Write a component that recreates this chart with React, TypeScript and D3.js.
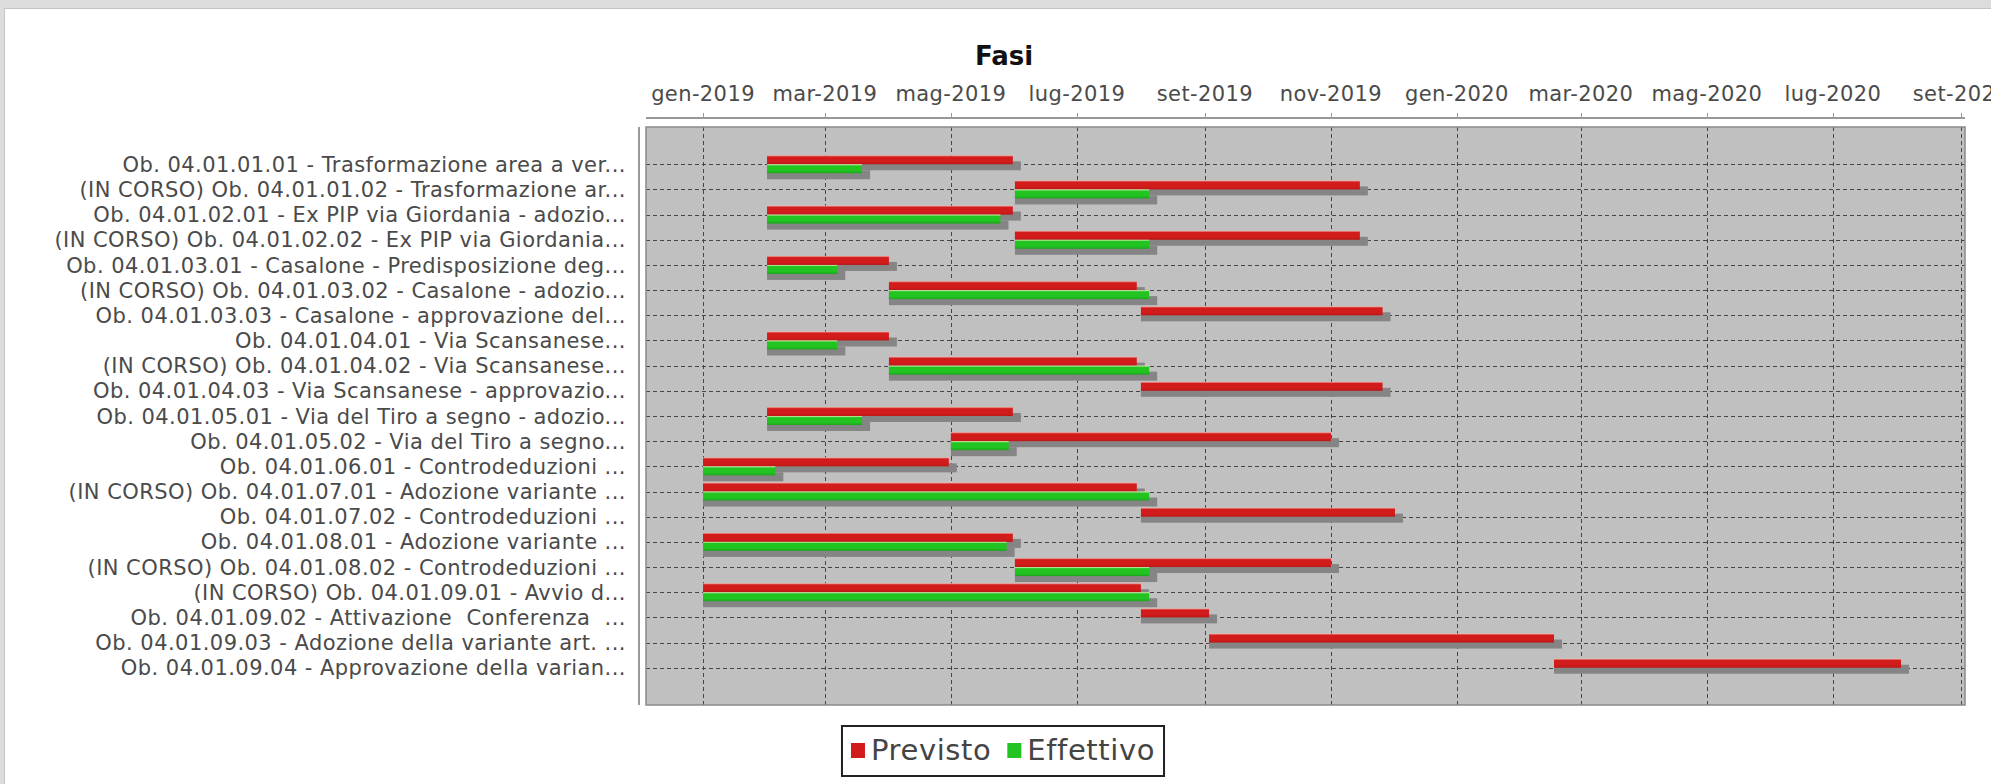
import React, { useEffect, useRef } from 'react'
import { max, min, scaleBand, scaleTime, select, timeMonth, timeParse } from 'd3'

// fasi (categorie), dall'alto in basso
const categories = [
  'Ob. 04.01.01.01 - Trasformazione area a ver...',
  '(IN CORSO) Ob. 04.01.01.02 - Trasformazione ar...',
  'Ob. 04.01.02.01 - Ex PIP via Giordania - adozio...',
  '(IN CORSO) Ob. 04.01.02.02 - Ex PIP via Giordania...',
  'Ob. 04.01.03.01 - Casalone - Predisposizione deg...',
  '(IN CORSO) Ob. 04.01.03.02 - Casalone - adozio...',
  'Ob. 04.01.03.03 - Casalone - approvazione del...',
  'Ob. 04.01.04.01 - Via Scansanese...',
  '(IN CORSO) Ob. 04.01.04.02 - Via Scansanese...',
  'Ob. 04.01.04.03 - Via Scansanese - approvazio...',
  'Ob. 04.01.05.01 - Via del Tiro a segno - adozio...',
  'Ob. 04.01.05.02 - Via del Tiro a segno...',
  'Ob. 04.01.06.01 - Controdeduzioni ...',
  '(IN CORSO) Ob. 04.01.07.01 - Adozione variante ...',
  'Ob. 04.01.07.02 - Controdeduzioni ...',
  'Ob. 04.01.08.01 - Adozione variante ...',
  '(IN CORSO) Ob. 04.01.08.02 - Controdeduzioni ...',
  '(IN CORSO) Ob. 04.01.09.01 - Avvio d...',
  'Ob. 04.01.09.02 - Attivazione  Conferenza  ...',
  'Ob. 04.01.09.03 - Adozione della variante art. ...',
  'Ob. 04.01.09.04 - Approvazione della varian...',
]

const previstoStart = [
  '2019-02-01', '2019-06-01', '2019-02-01', '2019-06-01', '2019-02-01', '2019-04-01', '2019-08-01',
  '2019-02-01', '2019-04-01', '2019-08-01', '2019-02-01', '2019-05-01', '2019-01-01', '2019-01-01',
  '2019-08-01', '2019-01-01', '2019-06-01', '2019-01-01', '2019-08-01', '2019-09-03', '2020-02-17',
]
const previstoEnd = [
  '2019-05-31', '2019-11-15', '2019-05-31', '2019-11-15', '2019-04-01', '2019-07-30', '2019-11-26',
  '2019-04-01', '2019-07-30', '2019-11-26', '2019-05-31', '2019-11-01', '2019-04-30', '2019-07-30',
  '2019-12-02', '2019-05-31', '2019-11-01', '2019-08-01', '2019-09-03', '2020-02-17', '2020-08-03',
]
const effettivoStart = [
  '2019-02-01', '2019-06-01', '2019-02-01', '2019-06-01', '2019-02-01', '2019-04-01', null,
  '2019-02-01', '2019-04-01', null, '2019-02-01', '2019-05-01', '2019-01-01', '2019-01-01',
  null, '2019-01-01', '2019-06-01', '2019-01-01', null, null, null,
]
const effettivoEnd = [
  '2019-03-19', '2019-08-05', '2019-05-25', '2019-08-05', '2019-03-07', '2019-08-05', null,
  '2019-03-07', '2019-08-05', null, '2019-03-19', '2019-05-29', '2019-02-05', '2019-08-05',
  null, '2019-05-28', '2019-08-05', '2019-08-05', null, null, null,
]

const seriesNames = ['Previsto', 'Effettivo']
const seriesColors = ['#d21b1b', '#22c422']
const monthLabels = ['gen', 'feb', 'mar', 'apr', 'mag', 'giu', 'lug', 'ago', 'set', 'ott', 'nov', 'dic']

const FONT = '"DejaVu Sans", sans-serif'

const Gantt = () => {
  const ref = useRef<SVGSVGElement>(null)

  useEffect(() => {
    main()
  }, [])

  const main = () => {
    const width = 1991,
      height = 784
    const plot = { left: 646, right: 1965, top: 127, bottom: 705 }
    const svg = select(ref.current)
    svg.selectAll('*').remove()
    svg.attr('width', width).attr('height', height).style('display', 'block')

    const parse = timeParse('%Y-%m-%d')
    const allStarts = [...previstoStart, ...effettivoStart].filter((d) => d).map((d) => parse(d))
    const allEnds = [...previstoEnd, ...effettivoEnd].filter((d) => d).map((d) => parse(d))
    const lo = +min(allStarts),
      hi = +max(allEnds)
    const span = hi - lo

    const x = scaleTime()
      .domain([new Date(lo - span * 0.0476), new Date(hi + span * 0.0534)])
      .range([plot.left, plot.right])
    const y = scaleBand()
      .domain(categories.map((_, i) => String(i)))
      .range([plot.top, plot.bottom])
      .paddingInner(0.2)
      .paddingOuter(1.08)
    const cy = (i) => y(String(i)) + y.bandwidth() / 2

    // fondo e cornice
    svg.append('rect').attr('width', width).attr('height', height).attr('fill', '#fff')
    svg.append('rect').attr('width', width).attr('height', 8).attr('fill', '#dcdcdc')
    svg.append('rect').attr('width', 4).attr('height', height).attr('fill', '#dcdcdc')
    svg.append('line').attr('x1', 4).attr('x2', width).attr('y1', 8.5).attr('y2', 8.5).attr('stroke', '#c4c4c4')
    svg.append('line').attr('x1', 4.5).attr('x2', 4.5).attr('y1', 8).attr('y2', height).attr('stroke', '#c4c4c4')

    const defs = svg.append('defs')
    const grads = [
      ['#f2b4ac', seriesColors[0], '#bc1616'],
      ['#e4f6b8', seriesColors[1], '#1ca41c'],
    ]
    grads.forEach((g, i) => {
      const lg = defs.append('linearGradient').attr('id', `grad${i}`).attr('x1', 0).attr('y1', 0).attr('x2', 0).attr('y2', 1)
      lg.append('stop').attr('offset', '0').attr('stop-color', g[0])
      lg.append('stop').attr('offset', '0.18').attr('stop-color', g[1])
      lg.append('stop').attr('offset', '0.7').attr('stop-color', g[1])
      lg.append('stop').attr('offset', '1').attr('stop-color', g[2])
    })

    // titolo
    svg
      .append('text')
      .attr('x', 1004)
      .attr('y', 65)
      .attr('text-anchor', 'middle')
      .attr('font-family', FONT)
      .attr('font-weight', 'bold')
      .attr('font-size', 26)
      .attr('fill', '#111')
      .text('Fasi')

    // area del grafico
    svg
      .append('rect')
      .attr('x', plot.left)
      .attr('y', plot.top)
      .attr('width', plot.right - plot.left)
      .attr('height', plot.bottom - plot.top)
      .attr('fill', '#c0c0c0')

    const ticks = x.ticks(timeMonth.every(2))

    const grid = svg.append('g').attr('stroke', '#454545').attr('stroke-width', 1).attr('stroke-dasharray', '4,3')
    grid
      .selectAll('.vgrid')
      .data(ticks)
      .enter()
      .append('line')
      .attr('x1', (d) => Math.round(x(d)) + 0.5)
      .attr('x2', (d) => Math.round(x(d)) + 0.5)
      .attr('y1', plot.top)
      .attr('y2', plot.bottom)
    grid
      .selectAll('.hgrid')
      .data(categories)
      .enter()
      .append('line')
      .attr('x1', plot.left)
      .attr('x2', plot.right)
      .attr('y1', (_, i) => Math.round(cy(i)) + 0.5)
      .attr('y2', (_, i) => Math.round(cy(i)) + 0.5)

    // barre (ombra ancorata all'inizio della barra)
    const barH = 9
    const shadowX = 8,
      shadowY = 6
    const series = [
      { start: previstoStart, end: previstoEnd, off: -barH },
      { start: effettivoStart, end: effettivoEnd, off: 0 },
    ]
    series.forEach((s, si) => {
      const rows = categories.map((_, i) => i).filter((i) => s.start[i])
      const g = svg.append('g')
      g.selectAll('.shadow')
        .data(rows)
        .enter()
        .append('rect')
        .attr('x', (i) => x(parse(s.start[i])))
        .attr('y', (i) => cy(i) + s.off + shadowY)
        .attr('width', (i) => x(parse(s.end[i])) - x(parse(s.start[i])) + shadowX)
        .attr('height', barH)
        .attr('fill', '#858585')
      g.selectAll('.bar')
        .data(rows)
        .enter()
        .append('rect')
        .attr('x', (i) => x(parse(s.start[i])))
        .attr('y', (i) => cy(i) + s.off)
        .attr('width', (i) => x(parse(s.end[i])) - x(parse(s.start[i])))
        .attr('height', barH)
        .attr('fill', `url(#grad${si})`)
    })

    svg
      .append('rect')
      .attr('x', plot.left)
      .attr('y', plot.top)
      .attr('width', plot.right - plot.left)
      .attr('height', plot.bottom - plot.top)
      .attr('fill', 'none')
      .attr('stroke', '#8a8a8a')
      .attr('stroke-width', 1.5)

    // asse dei tempi (in alto)
    const axisY = 118
    const ax = svg.append('g')
    ax.append('line')
      .attr('x1', plot.left)
      .attr('x2', plot.right)
      .attr('y1', axisY)
      .attr('y2', axisY)
      .attr('stroke', '#999')
      .attr('stroke-width', 2)
    ax.selectAll('.tick')
      .data(ticks)
      .enter()
      .append('line')
      .attr('x1', (d) => Math.round(x(d)) + 0.5)
      .attr('x2', (d) => Math.round(x(d)) + 0.5)
      .attr('y1', axisY - 5)
      .attr('y2', axisY)
      .attr('stroke', '#999')
    ax.selectAll('.label')
      .data(ticks)
      .enter()
      .append('text')
      .attr('x', (d) => x(d))
      .attr('y', 101)
      .attr('text-anchor', 'middle')
      .attr('font-family', FONT)
      .attr('font-size', 21)
      .attr('letter-spacing', 0.4)
      .attr('fill', '#4a4a4a')
      .text((d) => `${monthLabels[d.getMonth()]}-${d.getFullYear()}`)

    // asse delle categorie (a sinistra)
    svg
      .append('line')
      .attr('x1', 639)
      .attr('x2', 639)
      .attr('y1', plot.top)
      .attr('y2', plot.bottom)
      .attr('stroke', '#999')
      .attr('stroke-width', 2)
    svg
      .append('g')
      .selectAll('text')
      .data(categories)
      .enter()
      .append('text')
      .attr('x', 626)
      .attr('y', (_, i) => cy(i))
      .attr('dy', '0.36em')
      .attr('text-anchor', 'end')
      .attr('font-family', FONT)
      .attr('font-size', 21)
      .attr('letter-spacing', 0.45)
      .attr('fill', '#4a4a4a')
      .style('white-space', 'pre')
      .text((d) => d)

    // legenda
    const lg = svg.append('g')
    const box = lg.append('rect').attr('fill', '#fff').attr('stroke', '#222').attr('stroke-width', 2)
    let cx = 0
    seriesNames.forEach((name, i) => {
      lg.append('rect')
        .attr('x', cx)
        .attr('y', -7)
        .attr('width', 14)
        .attr('height', 15)
        .attr('fill', seriesColors[i])
      const t = lg
        .append('text')
        .attr('x', cx + 20)
        .attr('y', 10)
        .attr('font-family', FONT)
        .attr('font-size', 29)
        .attr('letter-spacing', 0.6)
        .attr('fill', '#444')
        .text(name)
      cx += 20 + t.node().getComputedTextLength() + 16
    })
    const contentW = cx - 16
    box.attr('x', -9).attr('y', -24).attr('width', contentW + 18).attr('height', 50)
    lg.attr('transform', `translate(${1003 - contentW / 2}, 750)`)
  }

  return <svg ref={ref}></svg>
}

export default function App() {
  return (
    <div>
      <style>{`body { margin: 0; }`}</style>
      <Gantt />
    </div>
  )
}
